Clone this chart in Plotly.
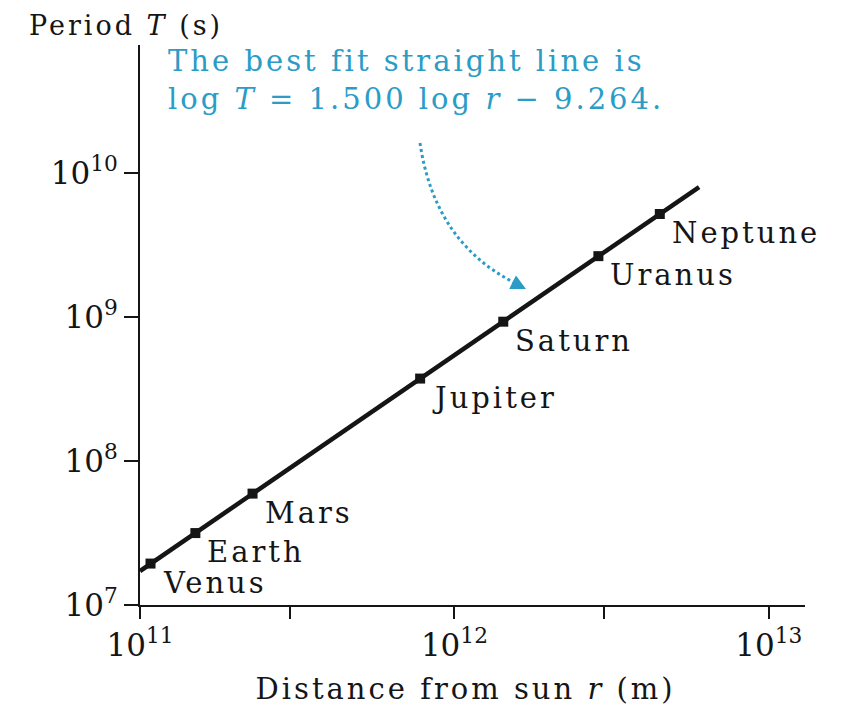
import numpy as np
import plotly.graph_objects as go

# ---- data ----
planets = ["Venus", "Earth", "Mars", "Jupiter", "Saturn", "Uranus", "Neptune"]
distance_m = [1.08e11, 1.50e11, 2.28e11, 7.78e11, 1.43e12, 2.87e12, 4.50e12]
period_s = [1.94e7, 3.16e7, 5.94e7, 3.74e8, 9.29e8, 2.65e9, 5.20e9]

fit_slope = 1.500
fit_intercept = -9.264
fit_r = [1.0e11, 6.0e12]
fit_T = [10 ** (fit_slope * np.log10(r) + fit_intercept) for r in fit_r]

x_tickvals = [1e11, 1e12, 1e13]
x_ticktext = ["10<sup>11</sup>", "10<sup>12</sup>", "10<sup>13</sup>"]
x_minor_tickvals = [3e11, 3e12]
y_tickvals = [1e7, 1e8, 1e9, 1e10]
y_ticktext = ["10<sup>7</sup>", "10<sup>8</sup>", "10<sup>9</sup>", "10<sup>10</sup>"]

SERIF = "DejaVu Serif"
TEAL = "#2a9cc6"
INK = "#151515"

fig = go.Figure()
fig.add_trace(go.Scatter(x=fit_r, y=fit_T, mode="lines",
                         line=dict(color=INK, width=4.5), hoverinfo="skip",
                         showlegend=False))
fig.add_trace(go.Scatter(x=distance_m, y=period_s, mode="markers",
                         marker=dict(color=INK, size=10, symbol="square"),
                         showlegend=False))

for name, r, T in zip(planets, distance_m, period_s):
    fig.add_annotation(x=np.log10(r), y=np.log10(T), xref="x", yref="y",
                       text=name, showarrow=False, xanchor="left", yanchor="middle",
                       align="left", xshift=10, yshift=-19,
                       font=dict(family=SERIF, size=29, color=INK))

# axis titles (plot area spans 140..805 px horizontally, 45..605 px vertically)
fig.add_annotation(xref="paper", yref="paper", x=-0.168, y=1.0357,
                   xanchor="left", yanchor="middle", showarrow=False, align="left",
                   borderpad=0,
                   text="Period <i>T</i> (s)",
                   font=dict(family=SERIF, size=27, color=INK))
fig.add_annotation(xref="paper", yref="paper", x=0.489, y=-0.150,
                   xanchor="center", yanchor="middle", showarrow=False,
                   text="Distance from sun <i>r</i> (m)",
                   font=dict(family=SERIF, size=29, color=INK))

# teal callout
fig.add_annotation(xref="paper", yref="paper", x=0.040, y=1.0035,
                   xanchor="left", yanchor="top", align="left", showarrow=False,
                   borderpad=0,
                   text="The best fit straight line is<br>log <i>T</i> = 1.500 log <i>r</i> \u2212 9.264.",
                   font=dict(family=SERIF, size=29, color=TEAL))

# curved dotted arrow (paper coordinates)
x0, y0 = (420 - 140) / 665, (605 - 143) / 560
cx, cy = (435 - 140) / 665, (605 - 245) / 560
x1, y1 = (519 - 140) / 665, (605 - 285) / 560
fig.add_shape(type="path", xref="paper", yref="paper",
              path=f"M {x0},{y0} Q {cx},{cy} {x1},{y1}",
              line=dict(color=TEAL, width=3, dash="dot"))
fig.add_annotation(xref="paper", yref="paper", x=(526 - 140) / 665, y=(605 - 289) / 560,
                   text="", showarrow=True, ax=-10, ay=-5,
                   arrowhead=2, arrowsize=1.0, arrowwidth=3, arrowcolor=TEAL)

fig.update_xaxes(type="log", range=[11, 13.115],
                 tickvals=x_tickvals, ticktext=x_ticktext,
                 ticks="outside", ticklen=12, tickwidth=2, tickcolor=INK,
                 minor=dict(tickvals=x_minor_tickvals, ticks="outside", ticklen=12,
                            tickwidth=2, tickcolor=INK, showgrid=False),
                 showline=True, linecolor=INK, linewidth=2,
                 showgrid=False, zeroline=False,
                 tickfont=dict(family=SERIF, size=31, color=INK))
fig.update_yaxes(type="log", range=[7, 10.89],
                 tickvals=y_tickvals, ticktext=y_ticktext,
                 ticks="outside", ticklen=14, tickwidth=2, tickcolor=INK,
                 showline=True, linecolor=INK, linewidth=2,
                 showgrid=False, zeroline=False,
                 tickfont=dict(family=SERIF, size=31, color=INK))

# page has an 8px body margin, so the figure is 8px smaller than the window
fig.update_layout(width=838, height=706,
                  margin=dict(l=132, r=41, t=37, b=109),
                  paper_bgcolor="white", plot_bgcolor="white",
                  showlegend=False)

# the reference type is set wide: add a little letter spacing to the annotation texts
post = """
document.querySelectorAll('.annotation-text').forEach(function(t){
  t.style.letterSpacing = '3px';
});
"""
fig.write_html("out.html", post_script=post)
